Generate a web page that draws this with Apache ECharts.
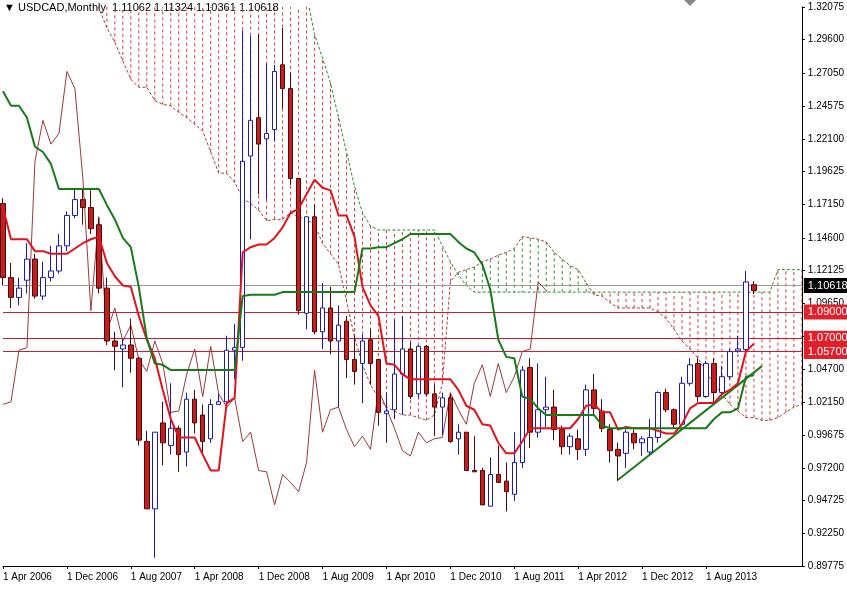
<!DOCTYPE html>
<html><head><meta charset="utf-8">
<script src="https://cdn.jsdelivr.net/npm/echarts@6/dist/echarts.min.js"></script>
<style>html,body{margin:0;padding:0;background:#fff}#c{width:847px;height:589px}</style>
</head><body><div id="c"></div>
<script>
const startYear = 2006, startMonth = 3; // Apr 2006
const nCats = 101;
const monthNames = ['Jan','Feb','Mar','Apr','May','Jun','Jul','Aug','Sep','Oct','Nov','Dec'];
const categories = [];
for (let i = 0; i < nCats; i++) { const m = startMonth + i; categories.push('1 ' + monthNames[m % 12] + ' ' + (startYear + Math.floor(m / 12))); }

const opens = [1.172,1.116,1.101,1.114,1.130,1.102,1.116,1.121,1.140,1.163,1.175,1.169,1.156,1.108,1.068,1.062,1.065,1.055,0.992,0.941,1.006,0.989,1.002,0.984,1.024,1.012,0.994,1.020,1.022,1.061,1.063,1.208,1.237,1.221,1.228,1.277,1.259,1.191,1.089,1.162,1.075,1.093,1.068,1.083,1.054,1.051,1.069,1.054,1.013,1.016,1.043,1.062,1.028,1.064,1.028,1.018,1.025,0.994,0.999,0.970,0.970,0.943,0.967,0.962,0.952,0.976,1.048,0.999,1.016,1.018,1.001,0.988,0.994,0.986,1.031,1.015,1.001,0.986,0.983,0.998,0.991,0.984,0.995,1.029,1.016,1.005,1.036,1.051,1.026,1.051,1.029,1.041,1.0605,1.0615,1.11062];
const highs = [1.176,1.127,1.116,1.142,1.134,1.128,1.140,1.149,1.166,1.183,1.184,1.182,1.161,1.116,1.075,1.069,1.085,1.056,1.000,0.999,1.022,1.036,1.004,1.029,1.031,1.020,1.024,1.028,1.072,1.081,1.303,1.299,1.300,1.278,1.277,1.305,1.271,1.191,1.162,1.171,1.112,1.109,1.095,1.087,1.072,1.073,1.077,1.054,1.029,1.084,1.087,1.067,1.065,1.065,1.035,1.029,1.028,1.005,0.999,0.996,0.972,0.980,0.989,0.976,0.999,1.049,1.055,1.051,1.041,1.031,1.004,0.998,1.001,1.035,1.043,1.024,1.005,0.991,1.001,1.001,0.996,1.009,1.030,1.032,1.017,1.041,1.055,1.055,1.053,1.055,1.049,1.062,1.072,1.121,1.11324];
const lows = [1.110,1.093,1.095,1.104,1.100,1.099,1.113,1.119,1.136,1.161,1.156,1.149,1.104,1.065,1.046,1.033,1.044,0.989,0.941,0.904,0.974,0.982,0.969,0.973,0.998,0.982,0.991,1.020,1.021,1.039,1.053,1.145,1.179,1.175,1.219,1.244,1.186,1.088,1.077,1.073,1.062,1.058,1.018,1.040,1.035,1.021,1.035,1.004,0.991,1.009,1.012,1.024,1.025,1.026,0.996,0.997,0.991,0.982,0.970,0.969,0.944,0.943,0.961,0.939,0.947,0.972,0.987,0.995,1.003,0.993,0.982,0.982,0.978,0.981,1.011,0.999,0.976,0.962,0.972,0.986,0.981,0.982,0.991,1.014,1.002,1.004,1.034,1.022,1.025,1.021,1.026,1.039,1.059,1.059,1.10361];
const closes = [1.116,1.101,1.108,1.130,1.102,1.116,1.121,1.140,1.163,1.175,1.169,1.153,1.108,1.068,1.064,1.065,1.055,0.993,0.941,0.999,0.991,1.002,0.982,1.024,1.006,0.992,1.020,1.022,1.061,1.063,1.204,1.235,1.217,1.225,1.272,1.259,1.191,1.091,1.162,1.075,1.093,1.068,1.080,1.054,1.045,1.068,1.051,1.014,1.015,1.043,1.062,1.026,1.064,1.028,1.018,1.025,0.992,0.999,0.970,0.969,0.944,0.967,0.961,0.954,0.976,1.046,0.999,1.016,1.018,1.001,0.988,0.996,0.986,1.031,1.017,1.002,0.985,0.981,0.999,0.991,0.994,0.995,1.029,1.016,1.005,1.036,1.050,1.026,1.051,1.029,1.041,1.060,1.062,1.1127,1.10618];

const tenkan = [1.169,1.145,1.145,1.145,1.136,1.136,1.134,1.134,1.134,1.138,1.142,1.145,1.147,1.127,1.117,1.110,1.109,1.087,1.069,1.055,1.031,1.009,0.995,0.995,0.995,0.982,0.970,0.970,1.021,1.025,1.135,1.139,1.141,1.141,1.146,1.154,1.165,1.168,1.179,1.190,1.184,1.182,1.163,1.163,1.147,1.109,1.095,1.087,1.051,1.050,1.043,1.039,1.039,1.039,1.039,1.039,1.039,1.031,1.019,1.016,1.005,1.004,0.991,0.983,0.983,0.992,1.002,1.002,1.002,1.002,1.002,1.002,1.009,1.019,1.020,1.014,1.014,1.001,1.003,1.002,1.002,1.002,1.000,0.998,0.998,1.005,1.017,1.021,1.021,1.021,1.028,1.031,1.036,1.060,1.066];
const kijun = [1.257,1.246,1.246,1.237,1.215,1.211,1.202,1.183,1.183,1.183,1.183,1.183,1.183,1.171,1.160,1.146,1.139,1.109,1.070,1.051,1.050,1.046,1.046,1.046,1.046,1.046,1.046,1.046,1.046,1.046,1.102,1.103,1.103,1.103,1.103,1.105,1.105,1.105,1.105,1.105,1.105,1.105,1.105,1.105,1.105,1.138,1.138,1.139,1.139,1.142,1.145,1.149,1.149,1.149,1.149,1.149,1.149,1.143,1.138,1.135,1.126,1.107,1.069,1.056,1.055,1.026,1.024,1.017,1.012,1.012,1.012,1.012,1.012,1.012,1.012,1.004,1.002,1.002,1.002,1.002,1.002,1.002,1.002,1.002,1.002,1.002,1.002,1.002,1.002,1.009,1.014,1.014,1.017,1.041,1.042];
const spanA = [1.40,1.40,1.40,1.40,1.40,1.40,1.40,1.40,1.40,1.40,1.40,1.37,1.32,1.305,1.294,1.280,1.266,1.260,1.260,1.250,1.247,1.246,1.241,1.237,1.232,1.227,1.211,1.195,1.195,1.188,1.176,1.172,1.167,1.159,1.160,1.160,1.165,1.162,1.160,1.156,1.142,1.134,1.126,1.098,1.071,1.050,1.035,1.025,1.018,1.015,1.012,1.012,1.010,1.008,1.012,1.036,1.113,1.120,1.122,1.124,1.128,1.130,1.133,1.135,1.138,1.147,1.146,1.145,1.143,1.135,1.130,1.125,1.122,1.112,1.103,1.102,1.097,1.093,1.093,1.093,1.093,1.093,1.090,1.085,1.077,1.068,1.062,1.055,1.045,1.035,1.028,1.020,1.015,1.010,1.010,1.008,1.008,1.010,1.014,1.018,1.020];
const spanB = [1.40,1.40,1.40,1.40,1.40,1.40,1.40,1.40,1.40,1.40,1.40,1.40,1.40,1.40,1.40,1.40,1.40,1.40,1.40,1.40,1.40,1.40,1.40,1.40,1.40,1.40,1.40,1.40,1.40,1.40,1.40,1.40,1.40,1.40,1.40,1.40,1.40,1.36,1.33,1.300,1.282,1.263,1.237,1.211,1.185,1.165,1.155,1.152,1.152,1.152,1.152,1.152,1.152,1.152,1.152,1.140,1.128,1.118,1.110,1.105,1.105,1.105,1.105,1.105,1.105,1.105,1.105,1.105,1.105,1.105,1.105,1.105,1.105,1.105,1.105,1.105,1.105,1.105,1.105,1.105,1.105,1.105,1.105,1.105,1.105,1.105,1.105,1.105,1.105,1.105,1.105,1.105,1.105,1.105,1.105,1.105,1.105,1.122,1.122,1.122,1.122];
const tickLabels = ['1.32075','1.29600','1.27050','1.24575','1.22100','1.19625','1.17150','1.14600','1.12125','1.09650','1.07175','1.04700','1.02150','0.99675','0.97200','0.94725','0.92250','0.89775'];
const levels = [1.09, 1.07, 1.057];
const lastPrice = 1.10618;
const trendStart = [77, 0.963], trendEnd = [95, 1.049];

const chikou = closes.slice(26);
const ohlc = opens.map((o, i) => [o, closes[i], lows[i], highs[i]]);
const hatch = spanA.map((a, i) => [i, a, spanB[i]]);

const chart = echarts.init(document.getElementById('c'));
const font = 'Liberation Sans, Arial, sans-serif';
const showLabel = i => i % 8 === 0 && i < 95;
chart.setOption({
  animation: false,
  backgroundColor: '#fff',
  textStyle: { fontFamily: font },
  graphic: [
    { type: 'text', left: 4, top: 2, style: { text: '▼ USDCAD,Monthly  1.11062 1.11324 1.10361 1.10618', fontSize: 11, fill: '#000', fontFamily: font } },
    { type: 'polygon', shape: { points: [[684,0],[696,0],[690,6]] }, style: { fill: '#888' } }
  ],
  grid: { left: 0, right: 42, top: 7, bottom: 23 },
  xAxis: {
    type: 'category', data: categories, boundaryGap: false,
    axisLine: { lineStyle: { color: '#000' } },
    axisTick: { interval: showLabel, length: 3, lineStyle: { color: '#000' } },
    axisLabel: { interval: showLabel, align: 'left', color: '#000', fontSize: 10, margin: 6 },
    splitLine: { show: false }
  },
  yAxis: {
    type: 'value', position: 'right', min: 0.89775, max: 1.32075, scale: true,
    axisLine: { show: true, lineStyle: { color: '#000' } },
    axisTick: { show: true, length: 3, customValues: tickLabels.map(Number), lineStyle: { color: '#000' } },
    axisLabel: { customValues: tickLabels.map(Number), formatter: v => v.toFixed(5), color: '#000', fontSize: 10, margin: 6 },
    splitLine: { show: false }
  },
  series: [
    {
      type: 'custom', data: hatch, clip: true, z: 1,
      renderItem: (params, api) => {
        const i = api.value(0), a = api.value(1), b = api.value(2);
        const p1 = api.coord([i, a]), p2 = api.coord([i, b]);
        return { type: 'line', shape: { x1: p1[0], y1: p1[1], x2: p2[0], y2: p2[1] },
          style: { stroke: b > a ? '#d23a3a' : '#2f8f2f', lineWidth: 1, lineDash: [3, 3] } };
      }
    },
    { type: 'line', data: spanA, symbol: 'none', clip: true, z: 2, lineStyle: { color: '#a0443a', width: 1, type: [3, 2] } },
    { type: 'line', data: spanB, symbol: 'none', clip: true, z: 2, lineStyle: { color: '#2a8a2a', width: 1, type: [3, 2] } },
    { type: 'line', data: chikou, symbol: 'none', clip: true, z: 3, lineStyle: { color: '#9a3a3a', width: 1 } },
    {
      type: 'candlestick', data: ohlc, barWidth: 5, z: 5,
      itemStyle: { color: '#ffffff', color0: '#c41e1e', borderColor: '#1c1cb4', borderColor0: '#4a0a0a', borderWidth: 1 },
      markLine: {
        silent: true, symbol: 'none', z: 4,
        data: [
          { yAxis: lastPrice, lineStyle: { color: '#999', width: 1, type: 'solid' },
            label: { position: 'end', formatter: '1.10618', color: '#fff', backgroundColor: '#000', padding: [2, 4], fontSize: 11, distance: 2 } },
          ...levels.map(l => ({ yAxis: l, lineStyle: { color: '#c42032', width: 1, type: 'solid' },
            label: { position: 'end', formatter: l.toFixed(5), color: '#fff', backgroundColor: '#e0202a', padding: [2, 4], fontSize: 11, distance: 2 } })),
          [ { coord: trendStart, lineStyle: { color: '#1a7a1a', width: 2, type: 'solid' }, label: { show: false } }, { coord: trendEnd } ]
        ]
      }
    },
    { type: 'line', data: tenkan, symbol: 'none', z: 6, lineStyle: { color: '#e0141e', width: 2 } },
    { type: 'line', data: kijun, symbol: 'none', z: 6, lineStyle: { color: '#1a7a1a', width: 2 } }
  ]
});
</script></body></html>
